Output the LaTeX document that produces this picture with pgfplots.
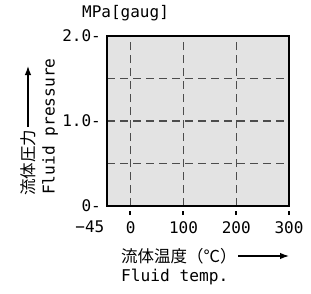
\documentclass[border=0pt]{standalone}
\usepackage{pgfplots}
\pgfplotsset{compat=1.18}
\usepackage{fontspec}
\setmainfont{DejaVu Sans Mono}
\newfontfamily\jp{Noto Sans CJK JP}
\usetikzlibrary{arrows.meta}
\begin{document}
\begin{tikzpicture}[x=1pt,y=1pt]
\useasboundingbox (0,0) rectangle (311,293);
\begin{axis}[
  at={(107pt,87pt)}, anchor=south west,
  width=182pt, height=170pt, scale only axis,
  xmin=-45, xmax=300, ymin=0, ymax=2,
  xtick={-45,0,100,200,300},
  xticklabels={\makebox[0pt][r]{−45\,},0,100,200,300},
  ytick={0,1,2},
  yticklabels={0-,1.0-,2.0-},
  minor ytick={0.5,1.5},
  grid=both,
  grid style={black!70, line width=1.3pt, dash pattern=on 8pt off 5pt},
  minor grid style={black!70, line width=1.3pt, dash pattern=on 8pt off 5pt},
  axis line style={line width=1.6pt},
  axis background/.style={fill=black!11},
  major tick length=0pt, minor tick length=0pt,
  ytick style={draw=none},
  xtick style={draw=none},
  tick label style={font=\fontsize{16}{16}\selectfont},
  yticklabel style={anchor=east, inner sep=0pt, xshift=-6pt},
  xticklabel style={anchor=north, inner sep=0pt, yshift=-15pt},
]
\end{axis}
% small x tick marks below the axis
\foreach \xx in {130,183,236,289} {\draw[line width=1.2pt] (\xx,78) -- (\xx,82);}
\node[anchor=west, inner sep=0pt, font=\fontsize{16}{16}\selectfont] at (82,280) {MPa[gaug]};
\node[rotate=90, anchor=west, inner sep=0pt, font=\jp\fontsize{16.5}{16.5}\selectfont] at (28,97) {流体圧力};
\draw[line width=1.3pt, -{Latex[length=9pt,width=6.5pt]}] (28,166) -- (28,227);
\node[rotate=90, anchor=west, inner sep=0pt, font=\fontsize{16.2}{16.2}\selectfont] at (50,98) {Fluid pressure};
\node[anchor=west, inner sep=0pt, font=\jp\fontsize{16.5}{16.5}\selectfont] at (121,37) {流体温度（℃）};
\draw[line width=1.3pt, -{Latex[length=9pt,width=6.5pt]}] (238,37) -- (289,37);
\node[anchor=west, inner sep=0pt, font=\fontsize{16.2}{16.2}\selectfont] at (121,16) {Fluid temp.};
\end{tikzpicture}
\end{document}
